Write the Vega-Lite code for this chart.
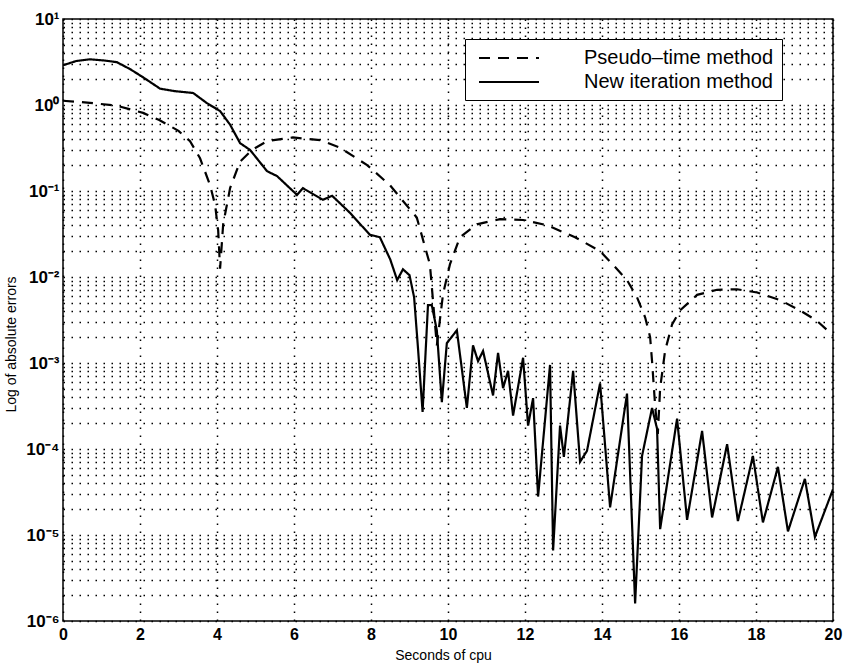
{
  "$schema": "https://vega.github.io/schema/vega-lite/v6.json",
  "width": 770,
  "height": 602,
  "autosize": {"type": "none"},
  "padding": {"left": 63, "top": 19, "right": 12, "bottom": 47},
  "background": "white",
  "config": {
    "view": {"stroke": "black", "strokeWidth": 1.5},
    "font": "Liberation Sans"
  },
  "data": {
    "values": [
      {"t": 0, "err": 1.12, "method": "Pseudo–time method"},
      {"t": 0.7, "err": 1.06, "method": "Pseudo–time method"},
      {"t": 1.4, "err": 0.98, "method": "Pseudo–time method"},
      {"t": 2.08, "err": 0.81, "method": "Pseudo–time method"},
      {"t": 2.5, "err": 0.67, "method": "Pseudo–time method"},
      {"t": 3.0, "err": 0.5, "method": "Pseudo–time method"},
      {"t": 3.3, "err": 0.38, "method": "Pseudo–time method"},
      {"t": 3.56, "err": 0.24, "method": "Pseudo–time method"},
      {"t": 3.82, "err": 0.117, "method": "Pseudo–time method"},
      {"t": 3.95, "err": 0.069, "method": "Pseudo–time method"},
      {"t": 4.03, "err": 0.035, "method": "Pseudo–time method"},
      {"t": 4.08, "err": 0.0125, "method": "Pseudo–time method"},
      {"t": 4.16, "err": 0.041, "method": "Pseudo–time method"},
      {"t": 4.34, "err": 0.108, "method": "Pseudo–time method"},
      {"t": 4.6, "err": 0.22, "method": "Pseudo–time method"},
      {"t": 4.91, "err": 0.3, "method": "Pseudo–time method"},
      {"t": 5.3, "err": 0.38, "method": "Pseudo–time method"},
      {"t": 5.97, "err": 0.42, "method": "Pseudo–time method"},
      {"t": 6.68, "err": 0.39, "method": "Pseudo–time method"},
      {"t": 7.19, "err": 0.32, "method": "Pseudo–time method"},
      {"t": 7.9, "err": 0.2, "method": "Pseudo–time method"},
      {"t": 8.49, "err": 0.117, "method": "Pseudo–time method"},
      {"t": 9.19, "err": 0.049, "method": "Pseudo–time method"},
      {"t": 9.53, "err": 0.014, "method": "Pseudo–time method"},
      {"t": 9.71, "err": 0.0016, "method": "Pseudo–time method"},
      {"t": 9.87, "err": 0.0063, "method": "Pseudo–time method"},
      {"t": 10.05, "err": 0.014, "method": "Pseudo–time method"},
      {"t": 10.31, "err": 0.029, "method": "Pseudo–time method"},
      {"t": 10.75, "err": 0.041, "method": "Pseudo–time method"},
      {"t": 11.35, "err": 0.047, "method": "Pseudo–time method"},
      {"t": 11.95, "err": 0.046, "method": "Pseudo–time method"},
      {"t": 12.57, "err": 0.04, "method": "Pseudo–time method"},
      {"t": 13.3, "err": 0.029, "method": "Pseudo–time method"},
      {"t": 13.95, "err": 0.02, "method": "Pseudo–time method"},
      {"t": 14.29, "err": 0.0138, "method": "Pseudo–time method"},
      {"t": 14.65, "err": 0.0092, "method": "Pseudo–time method"},
      {"t": 14.91, "err": 0.0058, "method": "Pseudo–time method"},
      {"t": 15.12, "err": 0.0034, "method": "Pseudo–time method"},
      {"t": 15.25, "err": 0.002, "method": "Pseudo–time method"},
      {"t": 15.3, "err": 0.00105, "method": "Pseudo–time method"},
      {"t": 15.38, "err": 0.00032, "method": "Pseudo–time method"},
      {"t": 15.45, "err": 0.00015, "method": "Pseudo–time method"},
      {"t": 15.51, "err": 0.00051, "method": "Pseudo–time method"},
      {"t": 15.64, "err": 0.0014, "method": "Pseudo–time method"},
      {"t": 15.82, "err": 0.0028, "method": "Pseudo–time method"},
      {"t": 16.03, "err": 0.0041, "method": "Pseudo–time method"},
      {"t": 16.47, "err": 0.0062, "method": "Pseudo–time method"},
      {"t": 16.99, "err": 0.0071, "method": "Pseudo–time method"},
      {"t": 17.51, "err": 0.0072, "method": "Pseudo–time method"},
      {"t": 18.03, "err": 0.0066, "method": "Pseudo–time method"},
      {"t": 18.62, "err": 0.0054, "method": "Pseudo–time method"},
      {"t": 19.14, "err": 0.0041, "method": "Pseudo–time method"},
      {"t": 19.58, "err": 0.0031, "method": "Pseudo–time method"},
      {"t": 20, "err": 0.0021, "method": "Pseudo–time method"},

      {"t": 0, "err": 2.9, "method": "New iteration method"},
      {"t": 0.35, "err": 3.25, "method": "New iteration method"},
      {"t": 0.7, "err": 3.4, "method": "New iteration method"},
      {"t": 1.05, "err": 3.3, "method": "New iteration method"},
      {"t": 1.4, "err": 3.15, "method": "New iteration method"},
      {"t": 1.75, "err": 2.6, "method": "New iteration method"},
      {"t": 2.08, "err": 2.1, "method": "New iteration method"},
      {"t": 2.52, "err": 1.55, "method": "New iteration method"},
      {"t": 2.9, "err": 1.45, "method": "New iteration method"},
      {"t": 3.38, "err": 1.38, "method": "New iteration method"},
      {"t": 3.74, "err": 1.05, "method": "New iteration method"},
      {"t": 4.08, "err": 0.85, "method": "New iteration method"},
      {"t": 4.34, "err": 0.59, "method": "New iteration method"},
      {"t": 4.6, "err": 0.36, "method": "New iteration method"},
      {"t": 4.86, "err": 0.3, "method": "New iteration method"},
      {"t": 5.3, "err": 0.17, "method": "New iteration method"},
      {"t": 5.56, "err": 0.149, "method": "New iteration method"},
      {"t": 6.08, "err": 0.09, "method": "New iteration method"},
      {"t": 6.23, "err": 0.108, "method": "New iteration method"},
      {"t": 6.75, "err": 0.079, "method": "New iteration method"},
      {"t": 6.99, "err": 0.088, "method": "New iteration method"},
      {"t": 7.45, "err": 0.056, "method": "New iteration method"},
      {"t": 7.97, "err": 0.031, "method": "New iteration method"},
      {"t": 8.23, "err": 0.029, "method": "New iteration method"},
      {"t": 8.5, "err": 0.016, "method": "New iteration method"},
      {"t": 8.68, "err": 0.0092, "method": "New iteration method"},
      {"t": 8.83, "err": 0.0123, "method": "New iteration method"},
      {"t": 9.0, "err": 0.0105, "method": "New iteration method"},
      {"t": 9.12, "err": 0.0058, "method": "New iteration method"},
      {"t": 9.22, "err": 0.0015, "method": "New iteration method"},
      {"t": 9.34, "err": 0.00027, "method": "New iteration method"},
      {"t": 9.48, "err": 0.0047, "method": "New iteration method"},
      {"t": 9.58, "err": 0.0047, "method": "New iteration method"},
      {"t": 9.71, "err": 0.0024, "method": "New iteration method"},
      {"t": 9.84, "err": 0.00035, "method": "New iteration method"},
      {"t": 9.97, "err": 0.0017, "method": "New iteration method"},
      {"t": 10.23, "err": 0.0024, "method": "New iteration method"},
      {"t": 10.49, "err": 0.0003, "method": "New iteration method"},
      {"t": 10.65, "err": 0.0016, "method": "New iteration method"},
      {"t": 10.78, "err": 0.00105, "method": "New iteration method"},
      {"t": 10.91, "err": 0.00138, "method": "New iteration method"},
      {"t": 11.17, "err": 0.00042, "method": "New iteration method"},
      {"t": 11.3, "err": 0.00131, "method": "New iteration method"},
      {"t": 11.43, "err": 0.00051, "method": "New iteration method"},
      {"t": 11.56, "err": 0.00081, "method": "New iteration method"},
      {"t": 11.69, "err": 0.000245, "method": "New iteration method"},
      {"t": 11.95, "err": 0.00115, "method": "New iteration method"},
      {"t": 12.08, "err": 0.000187, "method": "New iteration method"},
      {"t": 12.21, "err": 0.00039, "method": "New iteration method"},
      {"t": 12.34, "err": 0.000028, "method": "New iteration method"},
      {"t": 12.65, "err": 0.00095, "method": "New iteration method"},
      {"t": 12.73, "err": 0.0000066, "method": "New iteration method"},
      {"t": 12.91, "err": 0.000187, "method": "New iteration method"},
      {"t": 13.01, "err": 0.000081, "method": "New iteration method"},
      {"t": 13.25, "err": 0.00081, "method": "New iteration method"},
      {"t": 13.43, "err": 0.000071, "method": "New iteration method"},
      {"t": 13.61, "err": 0.000095, "method": "New iteration method"},
      {"t": 13.95, "err": 0.00058, "method": "New iteration method"},
      {"t": 14.21, "err": 0.000021, "method": "New iteration method"},
      {"t": 14.65, "err": 0.00044, "method": "New iteration method"},
      {"t": 14.86, "err": 0.0000016, "method": "New iteration method"},
      {"t": 15.04, "err": 0.000083, "method": "New iteration method"},
      {"t": 15.3, "err": 0.0003, "method": "New iteration method"},
      {"t": 15.43, "err": 0.000172, "method": "New iteration method"},
      {"t": 15.51, "err": 0.0000117, "method": "New iteration method"},
      {"t": 15.95, "err": 0.000225, "method": "New iteration method"},
      {"t": 16.21, "err": 0.000015, "method": "New iteration method"},
      {"t": 16.6, "err": 0.000162, "method": "New iteration method"},
      {"t": 16.86, "err": 0.000016, "method": "New iteration method"},
      {"t": 17.25, "err": 0.000114, "method": "New iteration method"},
      {"t": 17.53, "err": 0.0000145, "method": "New iteration method"},
      {"t": 17.92, "err": 0.000083, "method": "New iteration method"},
      {"t": 18.18, "err": 0.000014, "method": "New iteration method"},
      {"t": 18.57, "err": 0.000062, "method": "New iteration method"},
      {"t": 18.83, "err": 0.000011, "method": "New iteration method"},
      {"t": 19.27, "err": 0.000045, "method": "New iteration method"},
      {"t": 19.53, "err": 0.0000095, "method": "New iteration method"},
      {"t": 20, "err": 0.000034, "method": "New iteration method"}
    ]
  },
  "mark": {"type": "line", "color": "black", "strokeWidth": 2.2, "clip": true},
  "encoding": {
    "x": {
      "field": "t",
      "type": "quantitative",
      "scale": {"domain": [0, 20], "nice": false},
      "axis": {
        "values": [0, 2, 4, 6, 8, 10, 12, 14, 16, 18, 20],
        "grid": true,
        "gridColor": "black",
        "gridDash": [1.5, 6.5],
        "gridWidth": 1.5,
        "gridOpacity": 1,
        "ticks": false,
        "domain": false,
        "labelFontSize": 16,
        "labelFontWeight": "bold",
        "labelColor": "black",
        "labelPadding": 5,
        "labelFlush": false,
        "title": "Seconds of cpu",
        "titleFontSize": 14,
        "titleFontWeight": "normal",
        "titleColor": "black",
        "titleBaseline": "middle",
        "titleX": 380,
        "titleY": 34
      }
    },
    "y": {
      "field": "err",
      "type": "quantitative",
      "scale": {"type": "log", "domain": [0.000001, 10], "nice": false},
      "axis": {
        "values": [0.000001, 0.000002, 0.000003, 0.000004, 0.000005, 0.000006, 0.000007, 0.000008, 0.000009,
                   0.00001, 0.00002, 0.00003, 0.00004, 0.00005, 0.00006, 0.00007, 0.00008, 0.00009,
                   0.0001, 0.0002, 0.0003, 0.0004, 0.0005, 0.0006, 0.0007, 0.0008, 0.0009,
                   0.001, 0.002, 0.003, 0.004, 0.005, 0.006, 0.007, 0.008, 0.009,
                   0.01, 0.02, 0.03, 0.04, 0.05, 0.06, 0.07, 0.08, 0.09,
                   0.1, 0.2, 0.3, 0.4, 0.5, 0.6, 0.7, 0.8, 0.9,
                   1, 2, 3, 4, 5, 6, 7, 8, 9, 10],
        "labelExpr": "abs(log(datum.value)/LN10 - round(log(datum.value)/LN10)) < 0.001 ? ['10⁻⁶','10⁻⁵','10⁻⁴','10⁻³','10⁻²','10⁻¹','10⁰','10¹'][round(log(datum.value)/LN10)+6] : ''",
        "labelOverlap": false,
        "labelBound": false,
        "labelFlush": false,
        "grid": true,
        "gridColor": "black",
        "gridDash": [1.5, 6.5],
        "gridWidth": 1.5,
        "gridOpacity": 1,
        "ticks": false,
        "domain": false,
        "labelFontSize": 17,
        "labelFontWeight": "bold",
        "labelColor": "black",
        "labelPadding": 4,
        "title": "Log of absolute errors",
        "titleFontSize": 14,
        "titleFontWeight": "normal",
        "titleColor": "black",
        "titleBaseline": "middle",
        "titleX": -52,
        "titleY": 325
      }
    },
    "strokeDash": {
      "field": "method",
      "type": "nominal",
      "scale": {
        "domain": ["Pseudo–time method", "New iteration method"],
        "range": [[11, 8], [1, 0]]
      },
      "legend": {
        "orient": "none",
        "legendX": 402,
        "legendY": 20,
        "direction": "vertical",
        "title": null,
        "strokeColor": "black",
        "fillColor": "white",
        "padding": 8,
        "symbolType": "M-1,0H5",
        "symbolSize": 400,
        "symbolStrokeWidth": 2,
        "symbolStrokeColor": "black",
        "symbolOffset": 5,
        "labelOffset": 84,
        "labelFontSize": 20,
        "labelLimit": 400,
        "labelColor": "black",
        "labelFont": "Liberation Sans",
        "rowPadding": 3
      }
    }
  }
}
